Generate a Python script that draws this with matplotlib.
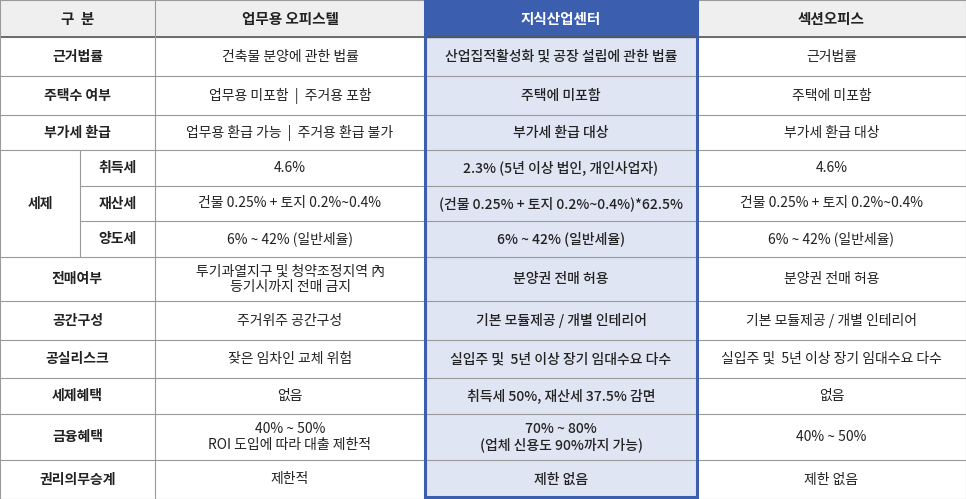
import matplotlib
matplotlib.use("Agg")
import matplotlib.pyplot as plt
from matplotlib.patches import Rectangle
from matplotlib import font_manager

names = {f.name for f in font_manager.fontManager.ttflist}
fams = [n for n in ["Noto Sans CJK KR", "Noto Sans CJK JP", "Noto Sans CJK SC", "Noto Sans CJK TC"] if n in names]
plt.rcParams["font.family"] = fams + ["DejaVu Sans"]

headers = ["구  분", "업무용 오피스텔", "지식산업센터", "섹션오피스"]
row_labels = ["근거법률", "주택수 여부", "부가세 환급", "취득세", "재산세", "양도세",
              "전매여부", "공간구성", "공실리스크", "세제혜택", "금융혜택", "권리의무승계"]
group_label = "세제"
col_officetel = ["건축물 분양에 관한 법률", "업무용 미포함  |  주거용 포함", "업무용 환급 가능  |  주거용 환급 불가",
                 "4.6%", "건물 0.25% + 토지 0.2%~0.4%", "6% ~ 42% (일반세율)",
                 "투기과열지구 및 청약조정지역 內\n등기시까지 전매 금지", "주거위주 공간구성", "잦은 임차인 교체 위험",
                 "없음", "40% ~ 50%\nROI 도입에 따라 대출 제한적", "제한적"]
col_knowledge = ["산업집적활성화 및 공장 설립에 관한 법률", "주택에 미포함", "부가세 환급 대상",
                 "2.3% (5년 이상 법인, 개인사업자)", "(건물 0.25% + 토지 0.2%~0.4%)*62.5%", "6% ~ 42% (일반세율)",
                 "분양권 전매 허용", "기본 모듈제공 / 개별 인테리어", "실입주 및  5년 이상 장기 임대수요 다수",
                 "취득세 50%, 재산세 37.5% 감면", "70% ~ 80%\n(업체 신용도 90%까지 가능)", "제한 없음"]
col_section = ["근거법률", "주택에 미포함", "부가세 환급 대상", "4.6%", "건물 0.25% + 토지 0.2%~0.4%",
               "6% ~ 42% (일반세율)", "분양권 전매 허용", "기본 모듈제공 / 개별 인테리어",
               "실입주 및  5년 이상 장기 임대수요 다수", "없음", "40% ~ 50%", "제한 없음"]

W, H = 966, 499
xs = [0, 155, 425, 697, 966]
sub_x = 80
ys = [0, 37, 76, 115, 150, 186, 221, 257, 301, 340, 378, 414, 460, 499]

fig = plt.figure(figsize=(W/100, H/100), dpi=100)
ax = fig.add_axes([0, 0, 1, 1])
ax.set_xlim(0, W); ax.set_ylim(H, 0); ax.axis("off")

grid = "#9a9a9a"
blue = "#3b5fae"
lightblue = "#dfe5f3"
txt = "#222222"

ax.add_patch(Rectangle((0, 0), W, ys[1], color="#efefef", zorder=0))
ax.add_patch(Rectangle((xs[2], ys[1]), xs[3]-xs[2], H-ys[1], color=lightblue, zorder=0))
ax.add_patch(Rectangle((xs[2], 0), xs[3]-xs[2], ys[1], color=blue, zorder=0))

for i, y in enumerate(ys):
    if i in (5, 6):
        ax.plot([sub_x, W], [y, y], color=grid, lw=0.8, zorder=1)
    else:
        ax.plot([0, W], [y, y], color=grid if i != 1 else "#555555", lw=0.8 if i != 1 else 1.2, zorder=1)
for x in xs:
    ax.plot([x, x], [0, H], color=grid, lw=0.8, zorder=1)
ax.plot([sub_x, sub_x], [ys[4], ys[7]], color=grid, lw=0.8, zorder=1)
ax.add_patch(Rectangle((xs[2], 1), xs[3]-xs[2], H-3, fill=False, ec=blue, lw=2.2, zorder=3))

fs = 10
for j, h in enumerate(headers):
    ax.text((xs[j]+xs[j+1])/2, ys[1]/2, h, ha="center", va="center", fontsize=10.5,
            fontweight="bold", color="white" if j == 2 else txt)

for i, lab in enumerate(row_labels):
    yc = (ys[i+1]+ys[i+2])/2
    if 3 <= i <= 5:
        ax.text((sub_x+xs[1])/2, yc, lab, ha="center", va="center", fontsize=fs, fontweight="bold", color=txt)
    else:
        ax.text(xs[1]/2, yc, lab, ha="center", va="center", fontsize=fs, fontweight="bold", color=txt)
    for j, col in enumerate([col_officetel, col_knowledge, col_section]):
        ax.text((xs[j+1]+xs[j+2])/2, yc, col[i], ha="center", va="center", fontsize=fs,
                color=txt, linespacing=1.1, fontweight="medium" if j == 1 else "normal")
ax.text(sub_x/2, (ys[4]+ys[7])/2, group_label, ha="center", va="center", fontsize=fs, fontweight="bold", color=txt)

fig.savefig("out.png", dpi=100)
